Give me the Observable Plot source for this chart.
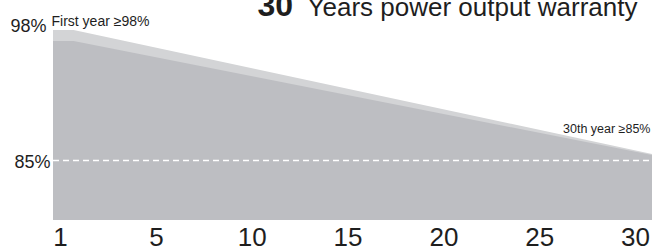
<!DOCTYPE html>
<html>
<head>
<meta charset="utf-8">
<script src="https://cdn.jsdelivr.net/npm/d3@7"></script>
<script src="https://cdn.jsdelivr.net/npm/@observablehq/plot@0.6"></script>
<style>
  html, body { margin: 0; padding: 0; background: #fff; }
</style>
</head>
<body>
<div id="chart"></div>
<script>
// ---- data ----
const years = [1, 2, 30];
const upperPct = [98, 98, 85.6];   // light band
const lowerPct = [96.9, 96.9, 85.5]; // dark band
const tickLabels = ["1", "5", "10", "15", "20", "25", "30"];
const yLabels = ["98%", "85%"];
const yLabelValues = [98, 85];
const guarantee = 85;
const titleBold = "30";
const titleRest = "Years power output warranty";
const firstNote = "First year ≥98%";
const lastNote = "30th year ≥85%";

const upper = years.map((y, i) => ({year: y, value: upperPct[i]}));
const lower = years.map((y, i) => ({year: y, value: lowerPct[i]}));

// evenly spaced labelled positions along the year axis
const tickStart = 1.34, tickEnd = 29.18;
const tickPos = tickLabels.map((_, i) => tickStart + i * (tickEnd - tickStart) / (tickLabels.length - 1));
const tickMap = new Map(tickPos.map((p, i) => [p, tickLabels[i]]));

const ink = "#1e1e1e";

const chart = Plot.plot({
  width: 654,
  height: 251,
  marginLeft: 53,
  marginRight: 2,
  marginTop: 30,
  marginBottom: 31,
  style: {fontFamily: "'Liberation Sans', Arial, sans-serif", background: "#fff", color: ink},
  x: {domain: [1, 30], axis: null},
  y: {domain: [79, 98], axis: null},
  marks: [
    Plot.areaY(upper, {x: "year", y: "value", fill: "#d3d4d6", clip: true}),
    Plot.areaY(lower, {x: "year", y: "value", fill: "#bdbec2", clip: true}),
    Plot.ruleY([guarantee], {stroke: "#fff", strokeWidth: 1.5, strokeDasharray: "6,4"}),
    Plot.axisX({ticks: tickPos, tickFormat: d => tickMap.get(d), tickSize: 0, tickPadding: 7, fontSize: 26, label: null, fill: ink}),
    Plot.text([yLabels[0]], {y: [yLabelValues[0]], text: d => d, frameAnchor: "left", textAnchor: "end", lineAnchor: "bottom", dx: -7, dy: 1, fontSize: 18, fill: ink}),
    Plot.text([yLabels[1]], {y: [yLabelValues[1]], text: d => d, frameAnchor: "left", textAnchor: "end", lineAnchor: "bottom", dx: -3, dy: 7, fontSize: 18, fill: ink}),
    Plot.text([firstNote], {text: d => d, frameAnchor: "top-left", textAnchor: "start", lineAnchor: "bottom", dx: -2, dy: -5, fontSize: 14, fill: ink}),
    Plot.text([lastNote], {text: d => d, frameAnchor: "top-right", textAnchor: "end", lineAnchor: "bottom", dx: -2, dy: 102, fontSize: 12.5, fill: ink}),
    Plot.text([titleBold], {text: d => d, frameAnchor: "top-left", textAnchor: "start", lineAnchor: "bottom", dx: 204, dy: -15, fontSize: 32, fontWeight: "bold", fill: ink}),
    Plot.text([titleRest], {text: d => d, frameAnchor: "top-left", textAnchor: "start", lineAnchor: "bottom", dx: 254, dy: -15, fontSize: 26, fill: ink})
  ]
});
document.getElementById("chart").appendChild(chart);
</script>
</body>
</html>
